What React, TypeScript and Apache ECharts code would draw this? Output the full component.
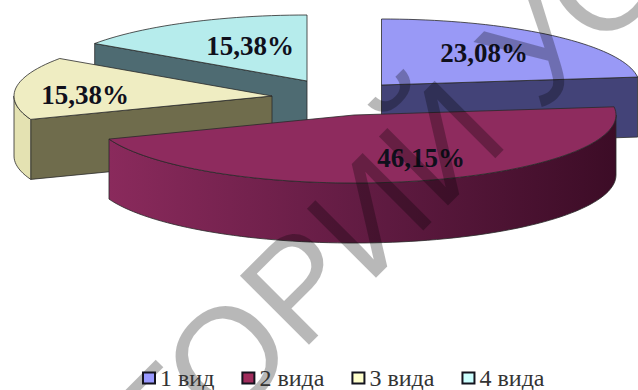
import React, { useEffect, useRef } from "react";
import * as echarts from "echarts";

// Survey shares by number of species
const categories = ["1 вид", "2 вида", "3 вида", "4 вида"];
const shares = [23.08, 46.15, 15.38, 15.38];
const stampText = "ТОРИЙ УО";

const topColors = ["#9999f6", "#8e2b5e", "#efedc2", "#b6ecec"];
const sideColors = ["#434378", "#6b1b45", "#e4e2b2", "#a5d9d9"];
const faceColors = ["#434378", "#4a1030", "#6f6c4c", "#4e6b72"];
const keyColors = ["#9999ff", "#a02c5c", "#ffffcc", "#ccffff"];

// Layout of the exploded slices, in page pixels
const radiiX = [258, 262, 258, 258];
const radiiY = [66, 68, 66, 66];
const DEPTH = 60;
const apexes = [[381.5, 85], [354, 115], [272, 96], [307, 81]];
const labelSpots = [[484, 53], [421, 158], [85, 95], [250, 46]];
const drawOrder = [3, 0, 2, 1];

const rad = (deg: number) => (deg * Math.PI) / 180;

function rim(i: number, deg: number, drop = 0): number[] {
  const [cx, cy] = apexes[i];
  return [cx + radiiX[i] * Math.sin(rad(deg)), cy - radiiY[i] * Math.cos(rad(deg)) + drop];
}

function arcPoints(i: number, from: number, to: number, drop = 0): number[][] {
  const steps = Math.max(2, Math.ceil(Math.abs(to - from) / 2));
  const pts: number[][] = [];
  for (let k = 0; k <= steps; k++) pts.push(rim(i, from + ((to - from) * k) / steps, drop));
  return pts;
}

function sliceAngles(i: number): [number, number] {
  const total = shares.reduce((a, b) => a + b, 0);
  const before = shares.slice(0, i).reduce((a, b) => a + b, 0);
  return [(before / total) * 360, ((before + shares[i]) / total) * 360];
}

function polygon(points: number[][], fill: any) {
  return {
    type: "polygon",
    shape: { points },
    style: { fill, stroke: "#2a2a2a", lineWidth: 0.8 },
  };
}

function renderSlice(i: number) {
  const [start, end] = sliceAngles(i);
  const [cx, cy] = apexes[i];
  const children: any[] = [];

  // Radial cut faces turned towards the viewer
  if (start > 180 && start < 360) {
    const a = rim(i, start);
    children.push(polygon([[cx, cy], a, [a[0], a[1] + DEPTH], [cx, cy + DEPTH]], faceColors[i]));
  }
  if (end > 0 && end < 180) {
    const a = rim(i, end);
    children.push(polygon([[cx, cy], a, [a[0], a[1] + DEPTH], [cx, cy + DEPTH]], faceColors[i]));
  }

  // Outer rim, only its front half can be seen
  const from = Math.max(start, 90);
  const to = Math.min(end, 270);
  if (to > from) {
    const fill =
      i === 1
        ? new echarts.graphic.LinearGradient(1, 0, 0, 0, [
            { offset: 0, color: "#3c0c26" },
            { offset: 0.45, color: "#5e1a40" },
            { offset: 1, color: "#8a2a5c" },
          ])
        : sideColors[i];
    children.push(
      polygon([...arcPoints(i, from, to), ...arcPoints(i, to, from, DEPTH)], fill)
    );
  }

  // Top of the slice
  children.push(polygon([[cx, cy], ...arcPoints(i, start, end)], topColors[i]));

  // Share label
  children.push({
    type: "text",
    x: labelSpots[i][0],
    y: labelSpots[i][1],
    style: {
      text: shares[i].toFixed(2).replace(".", ",") + "%",
      fontFamily: "Liberation Serif",
      fontWeight: "bold",
      fontSize: 27,
      fill: "#10101c",
      align: "center",
      verticalAlign: "middle",
    },
  });
  return { type: "group", children };
}

export default function App() {
  const ref = useRef<HTMLDivElement>(null);

  useEffect(() => {
    if (!ref.current) return;
    const chart = echarts.init(ref.current, undefined, { renderer: "svg" });
    chart.setOption({
      animation: false,
      backgroundColor: "#ffffff",
      legend: {
        left: 137,
        top: 361,
        z: 60,
        itemWidth: 12,
        itemHeight: 11,
        itemGap: 27,
        textStyle: {
          fontFamily: "Liberation Serif",
          fontSize: 24,
          color: "#333333",
        },
        data: categories.map((name, i) => ({
          name,
          icon: "rect",
          itemStyle: { color: keyColors[i], borderColor: "#14141f", borderWidth: 2 },
        })),
      },
      graphic: [
        {
          type: "text",
          x: 181,
          y: 503,
          rotation: rad(45),
          z: 50,
          silent: true,
          style: {
            text: stampText,
            fontFamily: "Liberation Sans",
            fontSize: 142,
            fill: "rgba(0,0,0,0.28)",
            align: "left",
            verticalAlign: "bottom",
          },
        },
      ],
      series: drawOrder.map((i, order) => ({
        type: "custom",
        name: categories[i],
        coordinateSystem: "none",
        z: order + 2,
        silent: true,
        data: [[shares[i]]],
        renderItem: () => renderSlice(i),
      })),
    });
    return () => chart.dispose();
  }, []);

  return (
    <div
      ref={ref}
      style={{ position: "fixed", left: 0, top: 0, width: 638, height: 390 }}
    />
  );
}
